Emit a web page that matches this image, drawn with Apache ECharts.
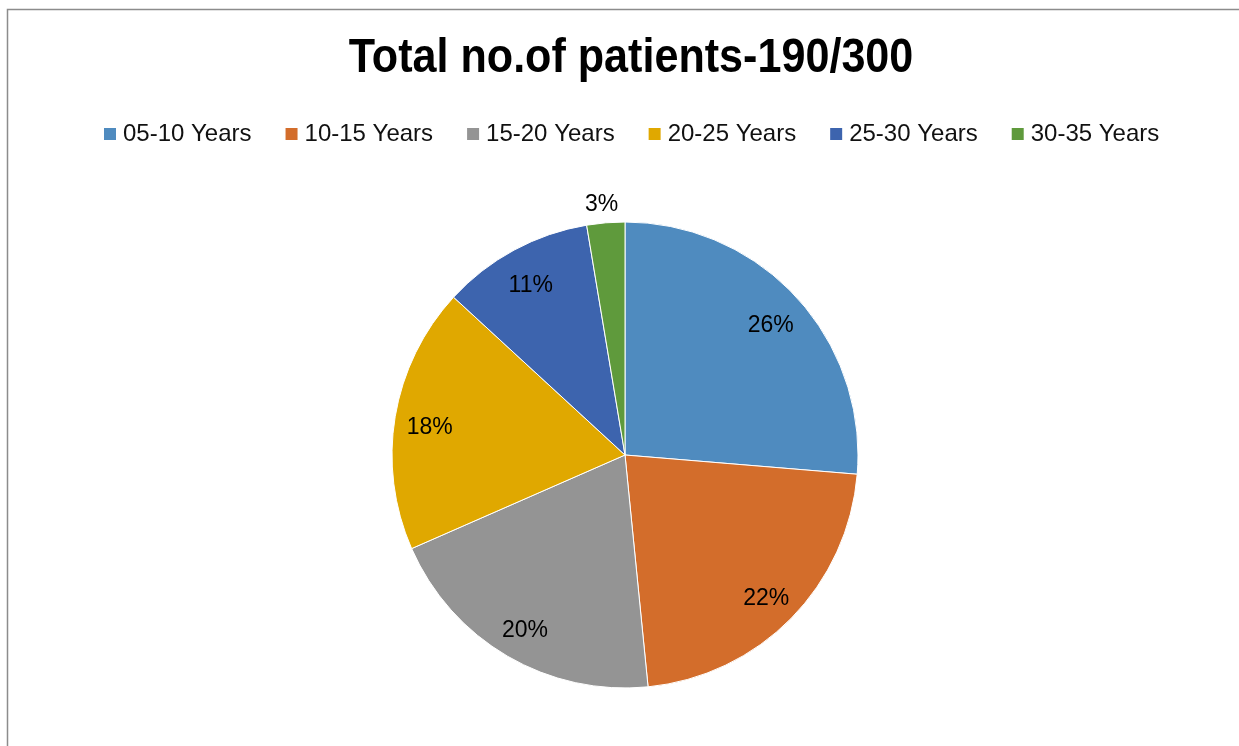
<!DOCTYPE html>
<html>
<head>
<meta charset="utf-8">
<script src="https://cdn.jsdelivr.net/npm/echarts@6/dist/echarts.min.js"></script>
<style>
html,body{margin:0;padding:0;background:#fff;}
#c{width:1239px;height:746px;}
</style>
</head>
<body>
<div id="c"></div>
<script>
const titleText = 'Total no.of patients-190/300';
const categories = ['05-10 Years','10-15 Years','15-20 Years','20-25 Years','25-30 Years','30-35 Years'];
const patients = [50, 42, 38, 35, 20, 5];
const colors = ['#4F8BBF','#D36D2B','#949494','#E0A800','#3D64AE','#5F9A3C'];

const FONT = '"Liberation Sans Narrow","Arial Narrow","Liberation Sans",sans-serif';
const chart = echarts.init(document.getElementById('c'));
const data = categories.map((n,i)=>({name:n, value:patients[i]}));
const labelData = categories.map((n,i)=>{
  const d = {name:n, value:patients[i]};
  if (i === categories.length-1) d.label = {position:'outside', offset:[18,-12]};
  return d;
});
chart.setOption({
  animation:false,
  color: colors,
  graphic:[
    {type:'polyline', shape:{points:[[7.5,746],[7.5,9.5],[1239,9.5]]}, style:{stroke:'#8c8c8c', lineWidth:1.5, fill:null}, silent:true},
    {type:'text', x:631, y:58, scaleX:0.88, scaleY:1, silent:true,
     style:{text:titleText, x:0, y:0, align:'center', verticalAlign:'middle', font:'bold 49px ' + FONT, fill:'#000'}}
  ],
  legend:{data:categories, top:117, left:97, itemWidth:14, itemHeight:14, itemGap:32,
    icon:'rect', textStyle:{fontFamily:FONT, fontSize:24, color:'#111', padding:[0,0,0,1]}},
  series:[
    {type:'pie', center:[625,455], radius:[0,233], startAngle:90, clockwise:true,
     data:data, label:{show:false}, labelLine:{show:false},
     itemStyle:{borderColor:'#ffffff', borderWidth:1}, silent:true},
    {type:'pie', center:[625,455], radius:[157,233], startAngle:90, clockwise:true,
     percentPrecision:0, data:labelData, silent:true, legendHoverLink:false,
     itemStyle:{color:'rgba(0,0,0,0)', borderWidth:0},
     label:{show:true, position:'inside', formatter:'{d}%', fontFamily:FONT, fontSize:23, color:'#000', offset:[0,5]},
     labelLine:{show:false, length:6, length2:0}}
  ]
});
</script>
</body>
</html>
